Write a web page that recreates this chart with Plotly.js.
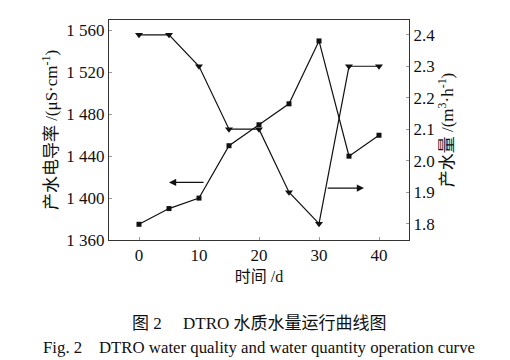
<!DOCTYPE html>
<html>
<head>
<meta charset="utf-8">
<script src="https://cdn.plot.ly/plotly-3.0.1.min.js"></script>
<style>html,body{margin:0;padding:0;background:#fff;}#chart{width:510px;height:360px;}</style>
</head>
<body>
<div id="chart"></div>
<script>
const days = [0, 5, 10, 15, 20, 25, 30, 35, 40];
const conductivity = [1375, 1390, 1400, 1450, 1470, 1490, 1550, 1440, 1460];
const waterOutput = [2.4, 2.4, 2.3, 2.1, 2.1, 1.9, 1.8, 2.3, 2.3];
const leftTickVals = [1360, 1400, 1440, 1480, 1520, 1560];
const leftTickText = ['1 360', '1 400', '1 440', '1 480', '1 520', '1 560'];
const rightTickVals = [1.8, 1.9, 2.0, 2.1, 2.2, 2.3, 2.4];
const rightTickText = ['1.8', '1.9', '2.0', '2.1', '2.2', '2.3', '2.4'];
const xTickVals = [0, 10, 20, 30, 40];

const FONT = '"Liberation Serif", "Times New Roman", "Noto Sans CJK SC", serif';
const axisCommon = {
  showgrid: false, zeroline: false, showline: true, linecolor: '#333', linewidth: 1,
  ticks: 'inside', ticklen: 3, tickcolor: '#999', tickfont: {family: FONT, size: 17, color: '#111'}
};

const traces = [
  {x: days, y: conductivity, type: 'scatter', mode: 'lines+markers', yaxis: 'y',
   line: {color: '#111', width: 1.2}, marker: {symbol: 'square', size: 5, color: '#111'}, showlegend: false},
  {x: days, y: waterOutput, type: 'scatter', mode: 'lines+markers', yaxis: 'y2',
   line: {color: '#111', width: 1.2}, marker: {symbol: 'triangle-down', size: 7, color: '#111'}, showlegend: false}
];

const layout = {
  width: 510, height: 360,
  margin: {l: 109, r: 101, t: 20, b: 120},
  paper_bgcolor: '#fff', plot_bgcolor: '#fff',
  font: {family: FONT, size: 17, color: '#111'},
  xaxis: Object.assign({}, axisCommon, {range: [-5, 45], tickvals: xTickVals, mirror: true,
    title: {text: '时间 /d', font: {family: FONT, size: 16}, standoff: 6}}),
  yaxis: Object.assign({}, axisCommon, {range: [1360, 1570], tickvals: leftTickVals, ticktext: leftTickText,
    title: {text: '产水电导率 /(μS·cm<sup>-1</sup>)', font: {family: FONT, size: 17}, standoff: 4}}),
  yaxis2: Object.assign({}, axisCommon, {range: [1.748, 2.447], overlaying: 'y', side: 'right',
    tickvals: rightTickVals, ticktext: rightTickText,
    title: {text: '产水量 /(m<sup>3</sup>·h<sup>-1</sup>)', font: {family: FONT, size: 17}, standoff: 4}}),
  annotations: [
    {x: 5, y: 1415, ax: 11, ay: 1415, xref: 'x', yref: 'y', axref: 'x', ayref: 'y',
     showarrow: true, arrowhead: 2, arrowsize: 1.2, arrowwidth: 1.2, arrowcolor: '#111', text: ''},
    {x: 37.5, y: 1.913, ax: 31.2, ay: 1.913, xref: 'x', yref: 'y2', axref: 'x', ayref: 'y2',
     showarrow: true, arrowhead: 2, arrowsize: 1.2, arrowwidth: 1.2, arrowcolor: '#111', text: ''},
    {x: 0.5, y: 323, xref: 'paper', yref: 'paper', yanchor: 'middle', showarrow: false,
     text: '图 2　 DTRO 水质水量运行曲线图', font: {family: FONT, size: 17, color: '#111'}},
    {x: 0.5, y: 347, xref: 'paper', yref: 'paper', yanchor: 'middle', showarrow: false,
     text: 'Fig. 2　DTRO water quality and water quantity operation curve', font: {family: FONT, size: 16.8, color: '#111'}}
  ]
};
// convert caption pixel y positions into paper fractions
const plotH = layout.height - layout.margin.t - layout.margin.b;
layout.annotations.forEach(a => {
  if (a.yref === 'paper') { a.y = (layout.height - layout.margin.b - a.y) / plotH; }
});
Plotly.newPlot('chart', traces, layout, {displayModeBar: false, staticPlot: true});
</script>
</body>
</html>
